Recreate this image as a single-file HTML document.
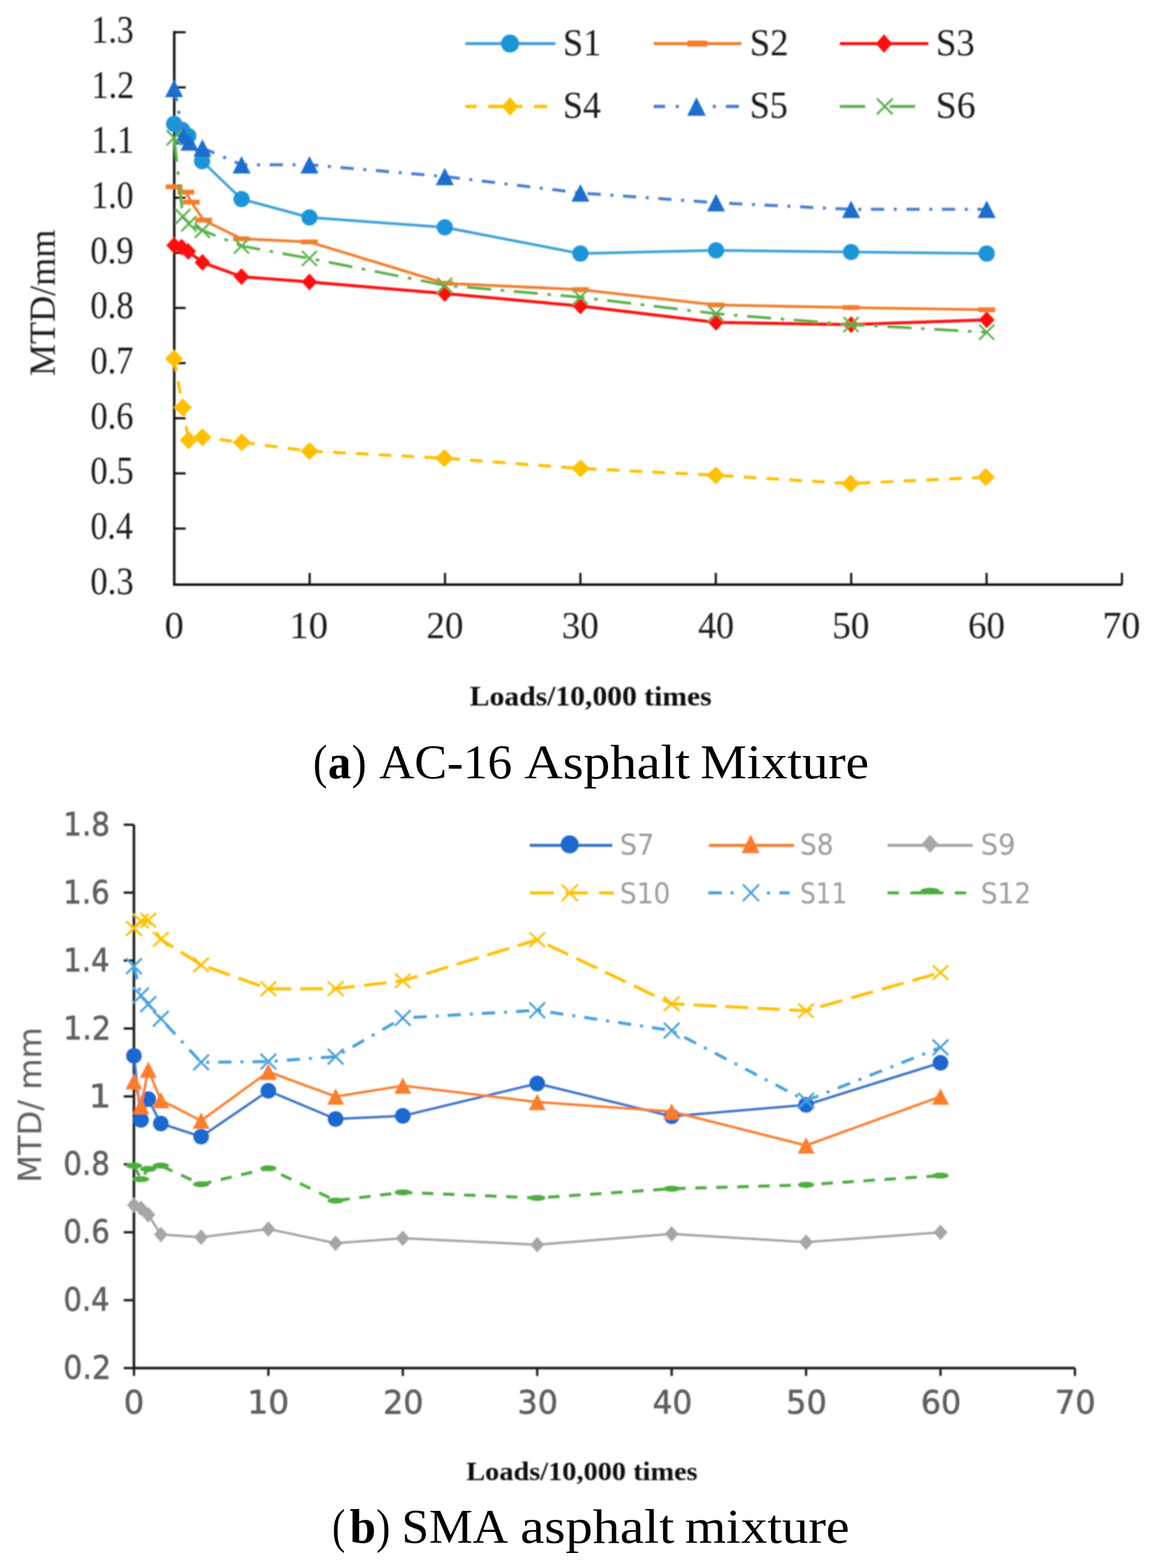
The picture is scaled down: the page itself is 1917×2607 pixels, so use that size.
<!DOCTYPE html>
<html><head><meta charset="utf-8"><title>MTD vs Loads</title>
<style>html,body{margin:0;padding:0;background:#fff;} svg{display:block;}</style></head>
<body>
<svg width="1917" height="2607" viewBox="0 0 1917 2607">
<defs><filter id="soft" x="0" y="0" width="1917" height="2607" filterUnits="userSpaceOnUse"><feGaussianBlur stdDeviation="0.9"/></filter></defs>
<rect width="1917" height="2607" fill="#fff"/>
<g id="chartA" filter="url(#soft)">
<path d="M289.7,51.6 V972.0 H1865.4" fill="none" stroke="#111" stroke-width="4" stroke-linejoin="miter"/>
<line x1="289.7" y1="878.8" x2="308.7" y2="878.8" stroke="#111" stroke-width="3.5"/>
<line x1="289.7" y1="787.1" x2="308.7" y2="787.1" stroke="#111" stroke-width="3.5"/>
<line x1="289.7" y1="695.4" x2="308.7" y2="695.4" stroke="#111" stroke-width="3.5"/>
<line x1="289.7" y1="603.7" x2="308.7" y2="603.7" stroke="#111" stroke-width="3.5"/>
<line x1="289.7" y1="512.0" x2="308.7" y2="512.0" stroke="#111" stroke-width="3.5"/>
<line x1="289.7" y1="420.4" x2="308.7" y2="420.4" stroke="#111" stroke-width="3.5"/>
<line x1="289.7" y1="328.7" x2="308.7" y2="328.7" stroke="#111" stroke-width="3.5"/>
<line x1="289.7" y1="237.0" x2="308.7" y2="237.0" stroke="#111" stroke-width="3.5"/>
<line x1="289.7" y1="145.3" x2="308.7" y2="145.3" stroke="#111" stroke-width="3.5"/>
<line x1="289.7" y1="53.6" x2="308.7" y2="53.6" stroke="#111" stroke-width="3.5"/>
<line x1="514.8" y1="972.0" x2="514.8" y2="952.5" stroke="#111" stroke-width="3.5"/>
<line x1="739.9" y1="972.0" x2="739.9" y2="952.5" stroke="#111" stroke-width="3.5"/>
<line x1="965.0" y1="972.0" x2="965.0" y2="952.5" stroke="#111" stroke-width="3.5"/>
<line x1="1190.1" y1="972.0" x2="1190.1" y2="952.5" stroke="#111" stroke-width="3.5"/>
<line x1="1415.2" y1="972.0" x2="1415.2" y2="952.5" stroke="#111" stroke-width="3.5"/>
<line x1="1640.3" y1="972.0" x2="1640.3" y2="952.5" stroke="#111" stroke-width="3.5"/>
<line x1="1865.4" y1="972.0" x2="1865.4" y2="952.5" stroke="#111" stroke-width="3.5"/>
<text x="150.3" y="987.7" textLength="72.0" lengthAdjust="spacingAndGlyphs" style='font-family:"Liberation Serif", serif;font-weight:normal;font-size:65px' fill="#1a1a1a">0.3</text>
<text x="150.4" y="896.0" textLength="70.5" lengthAdjust="spacingAndGlyphs" style='font-family:"Liberation Serif", serif;font-weight:normal;font-size:65px' fill="#1a1a1a">0.4</text>
<text x="150.3" y="804.3" textLength="72.0" lengthAdjust="spacingAndGlyphs" style='font-family:"Liberation Serif", serif;font-weight:normal;font-size:65px' fill="#1a1a1a">0.5</text>
<text x="150.4" y="712.6" textLength="71.4" lengthAdjust="spacingAndGlyphs" style='font-family:"Liberation Serif", serif;font-weight:normal;font-size:65px' fill="#1a1a1a">0.6</text>
<text x="150.4" y="620.9" textLength="71.4" lengthAdjust="spacingAndGlyphs" style='font-family:"Liberation Serif", serif;font-weight:normal;font-size:65px' fill="#1a1a1a">0.7</text>
<text x="150.3" y="529.2" textLength="71.8" lengthAdjust="spacingAndGlyphs" style='font-family:"Liberation Serif", serif;font-weight:normal;font-size:65px' fill="#1a1a1a">0.8</text>
<text x="150.3" y="437.6" textLength="72.0" lengthAdjust="spacingAndGlyphs" style='font-family:"Liberation Serif", serif;font-weight:normal;font-size:65px' fill="#1a1a1a">0.9</text>
<text x="152.1" y="345.9" textLength="70.0" lengthAdjust="spacingAndGlyphs" style='font-family:"Liberation Serif", serif;font-weight:normal;font-size:65px' fill="#1a1a1a">1.0</text>
<text x="152.0" y="254.2" textLength="71.4" lengthAdjust="spacingAndGlyphs" style='font-family:"Liberation Serif", serif;font-weight:normal;font-size:65px' fill="#1a1a1a">1.1</text>
<text x="152.0" y="162.5" textLength="71.1" lengthAdjust="spacingAndGlyphs" style='font-family:"Liberation Serif", serif;font-weight:normal;font-size:65px' fill="#1a1a1a">1.2</text>
<text x="152.1" y="70.8" textLength="70.2" lengthAdjust="spacingAndGlyphs" style='font-family:"Liberation Serif", serif;font-weight:normal;font-size:65px' fill="#1a1a1a">1.3</text>
<text x="273.8" y="1060.5" textLength="31.8" lengthAdjust="spacingAndGlyphs" style='font-family:"Liberation Serif", serif;font-weight:normal;font-size:64px' fill="#1a1a1a">0</text>
<text x="481.0" y="1060.5" textLength="64.5" lengthAdjust="spacingAndGlyphs" style='font-family:"Liberation Serif", serif;font-weight:normal;font-size:64px' fill="#1a1a1a">10</text>
<text x="708.9" y="1060.5" textLength="61.5" lengthAdjust="spacingAndGlyphs" style='font-family:"Liberation Serif", serif;font-weight:normal;font-size:64px' fill="#1a1a1a">20</text>
<text x="933.9" y="1060.5" textLength="61.6" lengthAdjust="spacingAndGlyphs" style='font-family:"Liberation Serif", serif;font-weight:normal;font-size:64px' fill="#1a1a1a">30</text>
<text x="1160.7" y="1060.5" textLength="59.8" lengthAdjust="spacingAndGlyphs" style='font-family:"Liberation Serif", serif;font-weight:normal;font-size:64px' fill="#1a1a1a">40</text>
<text x="1383.4" y="1060.5" textLength="62.3" lengthAdjust="spacingAndGlyphs" style='font-family:"Liberation Serif", serif;font-weight:normal;font-size:64px' fill="#1a1a1a">50</text>
<text x="1609.5" y="1060.5" textLength="61.3" lengthAdjust="spacingAndGlyphs" style='font-family:"Liberation Serif", serif;font-weight:normal;font-size:64px' fill="#1a1a1a">60</text>
<text x="1833.1" y="1060.5" textLength="62.8" lengthAdjust="spacingAndGlyphs" style='font-family:"Liberation Serif", serif;font-weight:normal;font-size:64px' fill="#1a1a1a">70</text>
<text transform="translate(91.0,623.5) rotate(-90)" x="-1.8" y="0" textLength="243.5" lengthAdjust="spacingAndGlyphs" style='font-family:"Liberation Serif", serif;font-weight:normal;font-size:62px' fill="#1a1a1a">MTD/mm</text>
<polyline points="289.5,206.0 303.0,216.0 313.0,226.0 336.0,268.0 401.6,331.0 514.5,361.5 739.5,378.0 965.0,421.6 1190.5,416.2 1415.0,419.0 1640.5,421.6" fill="none" stroke="#3fa1dc" stroke-width="4.5" stroke-linejoin="round"/>
<circle cx="289.5" cy="206.0" r="13.5" fill="#1b95d8"/>
<circle cx="303.0" cy="216.0" r="13.5" fill="#1b95d8"/>
<circle cx="313.0" cy="226.0" r="13.5" fill="#1b95d8"/>
<circle cx="336.0" cy="268.0" r="13.5" fill="#1b95d8"/>
<circle cx="401.6" cy="331.0" r="13.5" fill="#1b95d8"/>
<circle cx="514.5" cy="361.5" r="13.5" fill="#1b95d8"/>
<circle cx="739.5" cy="378.0" r="13.5" fill="#1b95d8"/>
<circle cx="965.0" cy="421.6" r="13.5" fill="#1b95d8"/>
<circle cx="1190.5" cy="416.2" r="13.5" fill="#1b95d8"/>
<circle cx="1415.0" cy="419.0" r="13.5" fill="#1b95d8"/>
<circle cx="1640.5" cy="421.6" r="13.5" fill="#1b95d8"/>
<polyline points="289.5,310.5 309.0,319.5 318.0,336.0 338.5,366.0 401.6,397.0 514.5,402.3 739.5,471.0 965.0,481.5 1190.5,507.0 1415.0,511.3 1640.5,515.0" fill="none" stroke="#f47d2c" stroke-width="4.5" stroke-linejoin="round"/>
<rect x="275.5" y="306.5" width="28" height="8" fill="#f47d2c"/>
<rect x="295.0" y="315.5" width="28" height="8" fill="#f47d2c"/>
<rect x="304.0" y="332.0" width="28" height="8" fill="#f47d2c"/>
<rect x="324.5" y="362.0" width="28" height="8" fill="#f47d2c"/>
<rect x="387.6" y="393.0" width="28" height="8" fill="#f47d2c"/>
<rect x="500.5" y="398.3" width="28" height="8" fill="#f47d2c"/>
<rect x="725.5" y="467.0" width="28" height="8" fill="#f47d2c"/>
<rect x="951.0" y="477.5" width="28" height="8" fill="#f47d2c"/>
<rect x="1176.5" y="503.0" width="28" height="8" fill="#f47d2c"/>
<rect x="1401.0" y="507.3" width="28" height="8" fill="#f47d2c"/>
<rect x="1626.5" y="511.0" width="28" height="8" fill="#f47d2c"/>
<polyline points="289.5,408.0 302.0,411.0 313.0,418.0 336.7,436.3 401.6,460.0 514.5,468.8 739.5,488.0 965.0,508.8 1190.5,536.0 1415.0,539.7 1640.5,531.7" fill="none" stroke="#ff0a0a" stroke-width="5" stroke-linejoin="round"/>
<path d="M289.5,394.0 L302.5,408.0 L289.5,422.0 L276.5,408.0Z" fill="#ff0a0a"/>
<path d="M302.0,397.0 L315.0,411.0 L302.0,425.0 L289.0,411.0Z" fill="#ff0a0a"/>
<path d="M313.0,404.0 L326.0,418.0 L313.0,432.0 L300.0,418.0Z" fill="#ff0a0a"/>
<path d="M336.7,422.3 L349.7,436.3 L336.7,450.3 L323.7,436.3Z" fill="#ff0a0a"/>
<path d="M401.6,446.0 L414.6,460.0 L401.6,474.0 L388.6,460.0Z" fill="#ff0a0a"/>
<path d="M514.5,454.8 L527.5,468.8 L514.5,482.8 L501.5,468.8Z" fill="#ff0a0a"/>
<path d="M739.5,474.0 L752.5,488.0 L739.5,502.0 L726.5,488.0Z" fill="#ff0a0a"/>
<path d="M965.0,494.8 L978.0,508.8 L965.0,522.8 L952.0,508.8Z" fill="#ff0a0a"/>
<path d="M1190.5,522.0 L1203.5,536.0 L1190.5,550.0 L1177.5,536.0Z" fill="#ff0a0a"/>
<path d="M1415.0,525.7 L1428.0,539.7 L1415.0,553.7 L1402.0,539.7Z" fill="#ff0a0a"/>
<path d="M1640.5,517.7 L1653.5,531.7 L1640.5,545.7 L1627.5,531.7Z" fill="#ff0a0a"/>
<polyline points="289.4,596.3 303.9,677.4 313.6,731.9 336.6,727.0 402.0,735.5 514.6,750.0 738.7,761.8 965.3,778.8 1190.0,790.2 1414.2,804.0 1639.0,793.3" fill="none" stroke="#ffc000" stroke-width="5" stroke-linejoin="round" stroke-dasharray="21 17"/>
<path d="M289.4,581.3 L304.4,596.3 L289.4,611.3 L274.4,596.3Z" fill="#ffc000"/>
<path d="M303.9,662.4 L318.9,677.4 L303.9,692.4 L288.9,677.4Z" fill="#ffc000"/>
<path d="M313.6,716.9 L328.6,731.9 L313.6,746.9 L298.6,731.9Z" fill="#ffc000"/>
<path d="M336.6,712.0 L351.6,727.0 L336.6,742.0 L321.6,727.0Z" fill="#ffc000"/>
<path d="M402.0,720.5 L417.0,735.5 L402.0,750.5 L387.0,735.5Z" fill="#ffc000"/>
<path d="M514.6,735.0 L529.6,750.0 L514.6,765.0 L499.6,750.0Z" fill="#ffc000"/>
<path d="M738.7,746.8 L753.7,761.8 L738.7,776.8 L723.7,761.8Z" fill="#ffc000"/>
<path d="M965.3,763.8 L980.3,778.8 L965.3,793.8 L950.3,778.8Z" fill="#ffc000"/>
<path d="M1190.0,775.2 L1205.0,790.2 L1190.0,805.2 L1175.0,790.2Z" fill="#ffc000"/>
<path d="M1414.2,789.0 L1429.2,804.0 L1414.2,819.0 L1399.2,804.0Z" fill="#ffc000"/>
<path d="M1639.0,778.3 L1654.0,793.3 L1639.0,808.3 L1624.0,793.3Z" fill="#ffc000"/>
<polyline points="289.5,147.0 305.0,226.0 315.0,236.0 336.5,246.0 401.6,274.0 514.5,274.0 739.5,293.5 965.0,320.8 1190.5,337.0 1415.0,348.0 1640.5,348.0" fill="none" stroke="#4a7fd0" stroke-width="5" stroke-linejoin="round" stroke-dasharray="22 16 5 16"/>
<path d="M289.5,132.5 L304.5,161.5 L274.5,161.5Z" fill="#1f6dcf"/>
<path d="M305.0,211.5 L320.0,240.5 L290.0,240.5Z" fill="#1f6dcf"/>
<path d="M315.0,221.5 L330.0,250.5 L300.0,250.5Z" fill="#1f6dcf"/>
<path d="M336.5,231.5 L351.5,260.5 L321.5,260.5Z" fill="#1f6dcf"/>
<path d="M401.6,259.5 L416.6,288.5 L386.6,288.5Z" fill="#1f6dcf"/>
<path d="M514.5,259.5 L529.5,288.5 L499.5,288.5Z" fill="#1f6dcf"/>
<path d="M739.5,279.0 L754.5,308.0 L724.5,308.0Z" fill="#1f6dcf"/>
<path d="M965.0,306.3 L980.0,335.3 L950.0,335.3Z" fill="#1f6dcf"/>
<path d="M1190.5,322.5 L1205.5,351.5 L1175.5,351.5Z" fill="#1f6dcf"/>
<path d="M1415.0,333.5 L1430.0,362.5 L1400.0,362.5Z" fill="#1f6dcf"/>
<path d="M1640.5,333.5 L1655.5,362.5 L1625.5,362.5Z" fill="#1f6dcf"/>
<polyline points="289.5,229.0 304.0,360.0 314.0,372.0 336.5,383.0 401.6,409.0 514.5,429.6 739.5,474.3 965.0,494.2 1190.5,521.5 1415.0,539.7 1640.5,552.4" fill="none" stroke="#58b14a" stroke-width="4.5" stroke-linejoin="round" stroke-dasharray="40 16 6 16"/>
<path d="M277.0,216.5 L302.0,241.5 M302.0,216.5 L277.0,241.5" stroke="#58b14a" stroke-width="3.2" fill="none"/>
<path d="M291.5,347.5 L316.5,372.5 M316.5,347.5 L291.5,372.5" stroke="#58b14a" stroke-width="3.2" fill="none"/>
<path d="M301.5,359.5 L326.5,384.5 M326.5,359.5 L301.5,384.5" stroke="#58b14a" stroke-width="3.2" fill="none"/>
<path d="M324.0,370.5 L349.0,395.5 M349.0,370.5 L324.0,395.5" stroke="#58b14a" stroke-width="3.2" fill="none"/>
<path d="M389.1,396.5 L414.1,421.5 M414.1,396.5 L389.1,421.5" stroke="#58b14a" stroke-width="3.2" fill="none"/>
<path d="M502.0,417.1 L527.0,442.1 M527.0,417.1 L502.0,442.1" stroke="#58b14a" stroke-width="3.2" fill="none"/>
<path d="M727.0,461.8 L752.0,486.8 M752.0,461.8 L727.0,486.8" stroke="#58b14a" stroke-width="3.2" fill="none"/>
<path d="M952.5,481.7 L977.5,506.7 M977.5,481.7 L952.5,506.7" stroke="#58b14a" stroke-width="3.2" fill="none"/>
<path d="M1178.0,509.0 L1203.0,534.0 M1203.0,509.0 L1178.0,534.0" stroke="#58b14a" stroke-width="3.2" fill="none"/>
<path d="M1402.5,527.2 L1427.5,552.2 M1427.5,527.2 L1402.5,552.2" stroke="#58b14a" stroke-width="3.2" fill="none"/>
<path d="M1628.0,539.9 L1653.0,564.9 M1653.0,539.9 L1628.0,564.9" stroke="#58b14a" stroke-width="3.2" fill="none"/>
<line x1="773.6" y1="72.5" x2="923.4" y2="72.5" stroke="#3fa1dc" stroke-width="5"/><circle cx="848.0" cy="72.5" r="15" fill="#1b95d8"/>
<line x1="1086.9" y1="72.5" x2="1232.9" y2="72.5" stroke="#f47d2c" stroke-width="5"/><rect x="1143.0" y="67.5" width="33" height="10" fill="#f47d2c"/>
<line x1="1396.3" y1="72.5" x2="1543.4" y2="72.5" stroke="#ff0a0a" stroke-width="5"/><path d="M1469.8,57.0 L1483.3,72.5 L1469.8,88.0 L1456.3,72.5Z" fill="#ff0a0a"/>
<line x1="773.6" y1="177.1" x2="923.4" y2="177.1" stroke="#ffc000" stroke-width="5.5" stroke-dasharray="19 19 57 19 22"/><path d="M848.0,161.6 L861.5,177.1 L848.0,192.6 L834.5,177.1Z" fill="#ffc000"/>
<line x1="1086.9" y1="177.1" x2="1228.5" y2="177.1" stroke="#4a7fd0" stroke-width="5.5" stroke-dasharray="19 17.6 5 56.7 5 16.5 21.8"/><path d="M1158.0,161.6 L1173.5,192.6 L1142.5,192.6Z" fill="#1f6dcf"/>
<line x1="1396.3" y1="177.1" x2="1521.6" y2="177.1" stroke="#58b14a" stroke-width="5" stroke-dasharray="42 41 43"/><path d="M1458.0,164.1 L1484.0,190.1 M1484.0,164.1 L1458.0,190.1" stroke="#58b14a" stroke-width="3.5" fill="none"/>
<text x="935.9" y="92.0" textLength="63.8" lengthAdjust="spacingAndGlyphs" style='font-family:"Liberation Serif", serif;font-weight:normal;font-size:63px' fill="#1a1a1a">S1</text>
<text x="1246.4" y="92.0" textLength="64.6" lengthAdjust="spacingAndGlyphs" style='font-family:"Liberation Serif", serif;font-weight:normal;font-size:63px' fill="#1a1a1a">S2</text>
<text x="1555.9" y="92.0" textLength="64.7" lengthAdjust="spacingAndGlyphs" style='font-family:"Liberation Serif", serif;font-weight:normal;font-size:63px' fill="#1a1a1a">S3</text>
<text x="936.0" y="196.0" textLength="63.0" lengthAdjust="spacingAndGlyphs" style='font-family:"Liberation Serif", serif;font-weight:normal;font-size:63px' fill="#1a1a1a">S4</text>
<text x="1246.4" y="196.0" textLength="63.5" lengthAdjust="spacingAndGlyphs" style='font-family:"Liberation Serif", serif;font-weight:normal;font-size:63px' fill="#1a1a1a">S5</text>
<text x="1555.8" y="196.0" textLength="66.2" lengthAdjust="spacingAndGlyphs" style='font-family:"Liberation Serif", serif;font-weight:normal;font-size:63px' fill="#1a1a1a">S6</text>
<text x="781.1" y="1172.5" textLength="402.1" lengthAdjust="spacingAndGlyphs" style='font-family:"Liberation Serif", serif;font-weight:bold;font-size:47px' fill="#111">Loads/10,000 times</text>
</g>
<text x="520.4" y="1293.7" textLength="23.8" lengthAdjust="spacingAndGlyphs" style='font-family:"Liberation Serif", serif;font-weight:normal;font-size:81px' fill="#000">(</text>
<text x="545.3" y="1293.7" textLength="38.5" lengthAdjust="spacingAndGlyphs" style='font-family:"Liberation Serif", serif;font-weight:bold;font-size:81px' fill="#000">a</text>
<text x="584.8" y="1293.7" textLength="24.6" lengthAdjust="spacingAndGlyphs" style='font-family:"Liberation Serif", serif;font-weight:normal;font-size:81px' fill="#000">)</text>
<text x="630.3" y="1293.7" textLength="221.1" lengthAdjust="spacingAndGlyphs" style='font-family:"Liberation Serif", serif;font-weight:normal;font-size:81px' fill="#000">AC-16</text>
<text x="871.8" y="1293.7" textLength="275.6" lengthAdjust="spacingAndGlyphs" style='font-family:"Liberation Serif", serif;font-weight:normal;font-size:81px' fill="#000">Asphalt</text>
<text x="1164.3" y="1293.7" textLength="280.3" lengthAdjust="spacingAndGlyphs" style='font-family:"Liberation Serif", serif;font-weight:normal;font-size:81px' fill="#000">Mixture</text>
<text x="552.2" y="2565.0" textLength="21.8" lengthAdjust="spacingAndGlyphs" style='font-family:"Liberation Serif", serif;font-weight:normal;font-size:81px' fill="#000">(</text>
<text x="581.4" y="2565.0" textLength="43.5" lengthAdjust="spacingAndGlyphs" style='font-family:"Liberation Serif", serif;font-weight:bold;font-size:81px' fill="#000">b</text>
<text x="625.5" y="2565.0" textLength="23.4" lengthAdjust="spacingAndGlyphs" style='font-family:"Liberation Serif", serif;font-weight:normal;font-size:81px' fill="#000">)</text>
<text x="667.7" y="2565.0" textLength="177.1" lengthAdjust="spacingAndGlyphs" style='font-family:"Liberation Serif", serif;font-weight:normal;font-size:81px' fill="#000">SMA</text>
<text x="865.0" y="2565.0" textLength="256.0" lengthAdjust="spacingAndGlyphs" style='font-family:"Liberation Serif", serif;font-weight:normal;font-size:81px' fill="#000">asphalt</text>
<text x="1138.8" y="2565.0" textLength="273.6" lengthAdjust="spacingAndGlyphs" style='font-family:"Liberation Serif", serif;font-weight:normal;font-size:81px' fill="#000">mixture</text>
<g id="chartB" filter="url(#soft)">
<path d="M222.7,1371.2 V2274.6 H1787.2" fill="none" stroke="#1a1a1a" stroke-width="4.2"/>
<line x1="205.7" y1="2274.6" x2="222.7" y2="2274.6" stroke="#1a1a1a" stroke-width="3.8"/>
<line x1="205.7" y1="2161.7" x2="222.7" y2="2161.7" stroke="#1a1a1a" stroke-width="3.8"/>
<line x1="205.7" y1="2048.8" x2="222.7" y2="2048.8" stroke="#1a1a1a" stroke-width="3.8"/>
<line x1="205.7" y1="1935.8" x2="222.7" y2="1935.8" stroke="#1a1a1a" stroke-width="3.8"/>
<line x1="205.7" y1="1822.9" x2="222.7" y2="1822.9" stroke="#1a1a1a" stroke-width="3.8"/>
<line x1="205.7" y1="1710.0" x2="222.7" y2="1710.0" stroke="#1a1a1a" stroke-width="3.8"/>
<line x1="205.7" y1="1597.0" x2="222.7" y2="1597.0" stroke="#1a1a1a" stroke-width="3.8"/>
<line x1="205.7" y1="1484.1" x2="222.7" y2="1484.1" stroke="#1a1a1a" stroke-width="3.8"/>
<line x1="205.7" y1="1371.2" x2="222.7" y2="1371.2" stroke="#1a1a1a" stroke-width="3.8"/>
<line x1="222.7" y1="2274.6" x2="222.7" y2="2287.6" stroke="#1a1a1a" stroke-width="3.8"/>
<line x1="446.2" y1="2274.6" x2="446.2" y2="2287.6" stroke="#1a1a1a" stroke-width="3.8"/>
<line x1="669.7" y1="2274.6" x2="669.7" y2="2287.6" stroke="#1a1a1a" stroke-width="3.8"/>
<line x1="893.2" y1="2274.6" x2="893.2" y2="2287.6" stroke="#1a1a1a" stroke-width="3.8"/>
<line x1="1116.7" y1="2274.6" x2="1116.7" y2="2287.6" stroke="#1a1a1a" stroke-width="3.8"/>
<line x1="1340.2" y1="2274.6" x2="1340.2" y2="2287.6" stroke="#1a1a1a" stroke-width="3.8"/>
<line x1="1563.7" y1="2274.6" x2="1563.7" y2="2287.6" stroke="#1a1a1a" stroke-width="3.8"/>
<line x1="1787.2" y1="2274.6" x2="1787.2" y2="2287.6" stroke="#1a1a1a" stroke-width="3.8"/>
<text x="105.3" y="2292.2" textLength="79.4" lengthAdjust="spacingAndGlyphs" style='font-family:"DejaVu Sans", sans-serif;font-weight:normal;font-size:53px' fill="#5f5f5f" stroke="#5f5f5f" stroke-width="0.9">0.2</text>
<text x="105.4" y="2179.3" textLength="76.9" lengthAdjust="spacingAndGlyphs" style='font-family:"DejaVu Sans", sans-serif;font-weight:normal;font-size:53px' fill="#5f5f5f" stroke="#5f5f5f" stroke-width="0.9">0.4</text>
<text x="105.3" y="2066.3" textLength="77.3" lengthAdjust="spacingAndGlyphs" style='font-family:"DejaVu Sans", sans-serif;font-weight:normal;font-size:53px' fill="#5f5f5f" stroke="#5f5f5f" stroke-width="0.9">0.6</text>
<text x="105.3" y="1953.4" textLength="77.6" lengthAdjust="spacingAndGlyphs" style='font-family:"DejaVu Sans", sans-serif;font-weight:normal;font-size:53px' fill="#5f5f5f" stroke="#5f5f5f" stroke-width="0.9">0.8</text>
<text x="147.5" y="1840.5" textLength="37.4" lengthAdjust="spacingAndGlyphs" style='font-family:"DejaVu Sans", sans-serif;font-weight:normal;font-size:53px' fill="#5f5f5f" stroke="#5f5f5f" stroke-width="0.9">1</text>
<text x="105.0" y="1727.6" textLength="79.6" lengthAdjust="spacingAndGlyphs" style='font-family:"DejaVu Sans", sans-serif;font-weight:normal;font-size:53px' fill="#5f5f5f" stroke="#5f5f5f" stroke-width="0.9">1.2</text>
<text x="105.2" y="1614.6" textLength="77.1" lengthAdjust="spacingAndGlyphs" style='font-family:"DejaVu Sans", sans-serif;font-weight:normal;font-size:53px' fill="#5f5f5f" stroke="#5f5f5f" stroke-width="0.9">1.4</text>
<text x="105.1" y="1501.7" textLength="77.5" lengthAdjust="spacingAndGlyphs" style='font-family:"DejaVu Sans", sans-serif;font-weight:normal;font-size:53px' fill="#5f5f5f" stroke="#5f5f5f" stroke-width="0.9">1.6</text>
<text x="105.1" y="1388.8" textLength="77.8" lengthAdjust="spacingAndGlyphs" style='font-family:"DejaVu Sans", sans-serif;font-weight:normal;font-size:53px' fill="#5f5f5f" stroke="#5f5f5f" stroke-width="0.9">1.8</text>
<text x="205.7" y="2349.5" textLength="34.0" lengthAdjust="spacingAndGlyphs" style='font-family:"DejaVu Sans", sans-serif;font-weight:normal;font-size:53px' fill="#5f5f5f" stroke="#5f5f5f" stroke-width="0.9">0</text>
<text x="411.2" y="2349.5" textLength="69.6" lengthAdjust="spacingAndGlyphs" style='font-family:"DejaVu Sans", sans-serif;font-weight:normal;font-size:53px' fill="#5f5f5f" stroke="#5f5f5f" stroke-width="0.9">10</text>
<text x="636.9" y="2349.5" textLength="67.3" lengthAdjust="spacingAndGlyphs" style='font-family:"DejaVu Sans", sans-serif;font-weight:normal;font-size:53px' fill="#5f5f5f" stroke="#5f5f5f" stroke-width="0.9">20</text>
<text x="860.2" y="2349.5" textLength="67.4" lengthAdjust="spacingAndGlyphs" style='font-family:"DejaVu Sans", sans-serif;font-weight:normal;font-size:53px' fill="#5f5f5f" stroke="#5f5f5f" stroke-width="0.9">30</text>
<text x="1085.1" y="2349.5" textLength="66.0" lengthAdjust="spacingAndGlyphs" style='font-family:"DejaVu Sans", sans-serif;font-weight:normal;font-size:53px' fill="#5f5f5f" stroke="#5f5f5f" stroke-width="0.9">40</text>
<text x="1307.1" y="2349.5" textLength="67.6" lengthAdjust="spacingAndGlyphs" style='font-family:"DejaVu Sans", sans-serif;font-weight:normal;font-size:53px' fill="#5f5f5f" stroke="#5f5f5f" stroke-width="0.9">50</text>
<text x="1531.0" y="2349.5" textLength="67.1" lengthAdjust="spacingAndGlyphs" style='font-family:"DejaVu Sans", sans-serif;font-weight:normal;font-size:53px' fill="#5f5f5f" stroke="#5f5f5f" stroke-width="0.9">60</text>
<text x="1753.8" y="2349.5" textLength="67.9" lengthAdjust="spacingAndGlyphs" style='font-family:"DejaVu Sans", sans-serif;font-weight:normal;font-size:53px' fill="#5f5f5f" stroke="#5f5f5f" stroke-width="0.9">70</text>
<text transform="translate(68.4,1961.3) rotate(-90)" x="-5.2" y="0" textLength="258.7" lengthAdjust="spacingAndGlyphs" style='font-family:"DejaVu Sans", sans-serif;font-weight:normal;font-size:53px' fill="#5f5f5f">MTD/ mm</text>
<polyline points="222.7,1755.4 234.4,1862.0 246.5,1827.5 267.4,1868.0 334.4,1889.8 446.2,1813.6 558.0,1860.5 669.7,1855.2 893.2,1801.5 1116.7,1856.0 1340.2,1837.0 1563.7,1767.0" fill="none" stroke="#3a72cc" stroke-width="4" stroke-linejoin="round"/>
<circle cx="222.7" cy="1755.4" r="13" fill="#1f68cf"/>
<circle cx="234.4" cy="1862.0" r="13" fill="#1f68cf"/>
<circle cx="246.5" cy="1827.5" r="13" fill="#1f68cf"/>
<circle cx="267.4" cy="1868.0" r="13" fill="#1f68cf"/>
<circle cx="334.4" cy="1889.8" r="13" fill="#1f68cf"/>
<circle cx="446.2" cy="1813.6" r="13" fill="#1f68cf"/>
<circle cx="558.0" cy="1860.5" r="13" fill="#1f68cf"/>
<circle cx="669.7" cy="1855.2" r="13" fill="#1f68cf"/>
<circle cx="893.2" cy="1801.5" r="13" fill="#1f68cf"/>
<circle cx="1116.7" cy="1856.0" r="13" fill="#1f68cf"/>
<circle cx="1340.2" cy="1837.0" r="13" fill="#1f68cf"/>
<circle cx="1563.7" cy="1767.0" r="13" fill="#1f68cf"/>
<polyline points="222.7,1797.8 234.4,1839.0 246.5,1778.4 267.4,1829.3 334.4,1863.2 446.2,1782.0 558.0,1823.2 669.7,1805.1 893.2,1832.3 1116.7,1848.0 1340.2,1904.5 1563.7,1823.2" fill="none" stroke="#fd7b2c" stroke-width="4" stroke-linejoin="round"/>
<path d="M222.7,1784.3 L236.7,1811.3 L208.7,1811.3Z" fill="#fd7b2c"/>
<path d="M234.4,1825.5 L248.4,1852.5 L220.4,1852.5Z" fill="#fd7b2c"/>
<path d="M246.5,1764.9 L260.5,1791.9 L232.5,1791.9Z" fill="#fd7b2c"/>
<path d="M267.4,1815.8 L281.4,1842.8 L253.4,1842.8Z" fill="#fd7b2c"/>
<path d="M334.4,1849.7 L348.4,1876.7 L320.4,1876.7Z" fill="#fd7b2c"/>
<path d="M446.2,1768.5 L460.2,1795.5 L432.2,1795.5Z" fill="#fd7b2c"/>
<path d="M558.0,1809.7 L572.0,1836.7 L544.0,1836.7Z" fill="#fd7b2c"/>
<path d="M669.7,1791.6 L683.7,1818.6 L655.7,1818.6Z" fill="#fd7b2c"/>
<path d="M893.2,1818.8 L907.2,1845.8 L879.2,1845.8Z" fill="#fd7b2c"/>
<path d="M1116.7,1834.5 L1130.7,1861.5 L1102.7,1861.5Z" fill="#fd7b2c"/>
<path d="M1340.2,1891.0 L1354.2,1918.0 L1326.2,1918.0Z" fill="#fd7b2c"/>
<path d="M1563.7,1809.7 L1577.7,1836.7 L1549.7,1836.7Z" fill="#fd7b2c"/>
<polyline points="222.7,2003.5 234.4,2009.0 246.5,2019.8 267.4,2052.5 334.4,2056.9 446.2,2043.4 558.0,2067.0 669.7,2058.7 893.2,2069.6 1116.7,2051.6 1340.2,2065.2 1563.7,2048.9" fill="none" stroke="#a6a6a6" stroke-width="4" stroke-linejoin="round"/>
<path d="M222.7,1990.5 L234.2,2003.5 L222.7,2016.5 L211.2,2003.5Z" fill="#a6a6a6"/>
<path d="M234.4,1996.0 L245.9,2009.0 L234.4,2022.0 L222.9,2009.0Z" fill="#a6a6a6"/>
<path d="M246.5,2006.8 L258.0,2019.8 L246.5,2032.8 L235.0,2019.8Z" fill="#a6a6a6"/>
<path d="M267.4,2039.5 L278.9,2052.5 L267.4,2065.5 L255.9,2052.5Z" fill="#a6a6a6"/>
<path d="M334.4,2043.9 L345.9,2056.9 L334.4,2069.9 L322.9,2056.9Z" fill="#a6a6a6"/>
<path d="M446.2,2030.4 L457.7,2043.4 L446.2,2056.4 L434.7,2043.4Z" fill="#a6a6a6"/>
<path d="M558.0,2054.0 L569.5,2067.0 L558.0,2080.0 L546.5,2067.0Z" fill="#a6a6a6"/>
<path d="M669.7,2045.7 L681.2,2058.7 L669.7,2071.7 L658.2,2058.7Z" fill="#a6a6a6"/>
<path d="M893.2,2056.6 L904.7,2069.6 L893.2,2082.6 L881.7,2069.6Z" fill="#a6a6a6"/>
<path d="M1116.7,2038.6 L1128.2,2051.6 L1116.7,2064.6 L1105.2,2051.6Z" fill="#a6a6a6"/>
<path d="M1340.2,2052.2 L1351.7,2065.2 L1340.2,2078.2 L1328.7,2065.2Z" fill="#a6a6a6"/>
<path d="M1563.7,2035.9 L1575.2,2048.9 L1563.7,2061.9 L1552.2,2048.9Z" fill="#a6a6a6"/>
<polyline points="222.7,1543.6 234.4,1531.5 246.5,1530.0 267.4,1561.7 334.4,1604.1 446.2,1644.0 558.0,1643.8 669.7,1630.7 893.2,1562.5 1116.7,1668.9 1340.2,1680.5 1563.7,1617.0" fill="none" stroke="#ffc000" stroke-width="5" stroke-linejoin="round" stroke-dasharray="38 15"/>
<path d="M209.7,1531.6 L235.7,1555.6 M235.7,1531.6 L209.7,1555.6" stroke="#ffc000" stroke-width="3.5" fill="none"/>
<path d="M221.4,1519.5 L247.4,1543.5 M247.4,1519.5 L221.4,1543.5" stroke="#ffc000" stroke-width="3.5" fill="none"/>
<path d="M233.5,1518.0 L259.5,1542.0 M259.5,1518.0 L233.5,1542.0" stroke="#ffc000" stroke-width="3.5" fill="none"/>
<path d="M254.4,1549.7 L280.4,1573.7 M280.4,1549.7 L254.4,1573.7" stroke="#ffc000" stroke-width="3.5" fill="none"/>
<path d="M321.4,1592.1 L347.4,1616.1 M347.4,1592.1 L321.4,1616.1" stroke="#ffc000" stroke-width="3.5" fill="none"/>
<path d="M433.2,1632.0 L459.2,1656.0 M459.2,1632.0 L433.2,1656.0" stroke="#ffc000" stroke-width="3.5" fill="none"/>
<path d="M545.0,1631.8 L571.0,1655.8 M571.0,1631.8 L545.0,1655.8" stroke="#ffc000" stroke-width="3.5" fill="none"/>
<path d="M656.7,1618.7 L682.7,1642.7 M682.7,1618.7 L656.7,1642.7" stroke="#ffc000" stroke-width="3.5" fill="none"/>
<path d="M880.2,1550.5 L906.2,1574.5 M906.2,1550.5 L880.2,1574.5" stroke="#ffc000" stroke-width="3.5" fill="none"/>
<path d="M1103.7,1656.9 L1129.7,1680.9 M1129.7,1656.9 L1103.7,1680.9" stroke="#ffc000" stroke-width="3.5" fill="none"/>
<path d="M1327.2,1668.5 L1353.2,1692.5 M1353.2,1668.5 L1327.2,1692.5" stroke="#ffc000" stroke-width="3.5" fill="none"/>
<path d="M1550.7,1605.0 L1576.7,1629.0 M1576.7,1605.0 L1550.7,1629.0" stroke="#ffc000" stroke-width="3.5" fill="none"/>
<polyline points="222.7,1606.5 234.4,1655.0 246.5,1669.5 267.4,1693.7 334.4,1766.3 446.2,1765.0 558.0,1756.7 669.7,1692.5 893.2,1679.8 1116.7,1713.4 1340.2,1830.0 1563.7,1741.5" fill="none" stroke="#47a0de" stroke-width="5" stroke-linejoin="round" stroke-dasharray="22 15 5 15"/>
<path d="M209.7,1593.5 L235.7,1619.5 M235.7,1593.5 L209.7,1619.5" stroke="#47a0de" stroke-width="3.5" fill="none"/>
<path d="M221.4,1642.0 L247.4,1668.0 M247.4,1642.0 L221.4,1668.0" stroke="#47a0de" stroke-width="3.5" fill="none"/>
<path d="M233.5,1656.5 L259.5,1682.5 M259.5,1656.5 L233.5,1682.5" stroke="#47a0de" stroke-width="3.5" fill="none"/>
<path d="M254.4,1680.7 L280.4,1706.7 M280.4,1680.7 L254.4,1706.7" stroke="#47a0de" stroke-width="3.5" fill="none"/>
<path d="M321.4,1753.3 L347.4,1779.3 M347.4,1753.3 L321.4,1779.3" stroke="#47a0de" stroke-width="3.5" fill="none"/>
<path d="M433.2,1752.0 L459.2,1778.0 M459.2,1752.0 L433.2,1778.0" stroke="#47a0de" stroke-width="3.5" fill="none"/>
<path d="M545.0,1743.7 L571.0,1769.7 M571.0,1743.7 L545.0,1769.7" stroke="#47a0de" stroke-width="3.5" fill="none"/>
<path d="M656.7,1679.5 L682.7,1705.5 M682.7,1679.5 L656.7,1705.5" stroke="#47a0de" stroke-width="3.5" fill="none"/>
<path d="M880.2,1666.8 L906.2,1692.8 M906.2,1666.8 L880.2,1692.8" stroke="#47a0de" stroke-width="3.5" fill="none"/>
<path d="M1103.7,1700.4 L1129.7,1726.4 M1129.7,1700.4 L1103.7,1726.4" stroke="#47a0de" stroke-width="3.5" fill="none"/>
<path d="M1327.2,1817.0 L1353.2,1843.0 M1353.2,1817.0 L1327.2,1843.0" stroke="#47a0de" stroke-width="3.5" fill="none"/>
<path d="M1550.7,1728.5 L1576.7,1754.5 M1576.7,1728.5 L1550.7,1754.5" stroke="#47a0de" stroke-width="3.5" fill="none"/>
<polyline points="222.7,1938.1 234.4,1960.6 246.5,1943.6 267.4,1938.1 334.4,1969.0 446.2,1942.5 558.0,1996.2 669.7,1982.4 893.2,1991.7 1116.7,1976.4 1340.2,1969.9 1563.7,1954.6" fill="none" stroke="#4cae3c" stroke-width="5" stroke-linejoin="round" stroke-dasharray="19 16"/>
<ellipse cx="222.7" cy="1938.1" rx="13.5" ry="5" fill="#4cae3c"/>
<ellipse cx="234.4" cy="1960.6" rx="13.5" ry="5" fill="#4cae3c"/>
<ellipse cx="246.5" cy="1943.6" rx="13.5" ry="5" fill="#4cae3c"/>
<ellipse cx="267.4" cy="1938.1" rx="13.5" ry="5" fill="#4cae3c"/>
<ellipse cx="334.4" cy="1969.0" rx="13.5" ry="5" fill="#4cae3c"/>
<ellipse cx="446.2" cy="1942.5" rx="13.5" ry="5" fill="#4cae3c"/>
<ellipse cx="558.0" cy="1996.2" rx="13.5" ry="5" fill="#4cae3c"/>
<ellipse cx="669.7" cy="1982.4" rx="13.5" ry="5" fill="#4cae3c"/>
<ellipse cx="893.2" cy="1991.7" rx="13.5" ry="5" fill="#4cae3c"/>
<ellipse cx="1116.7" cy="1976.4" rx="13.5" ry="5" fill="#4cae3c"/>
<ellipse cx="1340.2" cy="1969.9" rx="13.5" ry="5" fill="#4cae3c"/>
<ellipse cx="1563.7" cy="1954.6" rx="13.5" ry="5" fill="#4cae3c"/>
<line x1="880.7" y1="1405.5" x2="1018" y2="1405.5" stroke="#3a72cc" stroke-width="5"/><circle cx="947.2" cy="1404.0" r="15" fill="#1f68cf"/>
<line x1="1178.7" y1="1405.5" x2="1320.3" y2="1405.5" stroke="#fd7b2c" stroke-width="5"/><path d="M1248.0,1387.5 L1263.0,1418.5 L1233.0,1418.5Z" fill="#fd7b2c"/>
<line x1="1475.6" y1="1405.5" x2="1617.2" y2="1405.5" stroke="#a6a6a6" stroke-width="5"/><path d="M1546.4,1388.0 L1559.9,1403.0 L1546.4,1418.0 L1532.9,1403.0Z" fill="#a6a6a6"/>
<line x1="880.7" y1="1484.4" x2="1020.4" y2="1484.4" stroke="#ffc000" stroke-width="5" stroke-dasharray="40 20 37 18 25"/><path d="M933.7,1470.4 L960.7,1498.4 M960.7,1470.4 L933.7,1498.4" stroke="#ffc000" stroke-width="3.5" fill="none"/>
<line x1="1177.7" y1="1484.4" x2="1312.8" y2="1484.4" stroke="#47a0de" stroke-width="5" stroke-dasharray="22.3 14.5 5 55.5 5 16 19.5"/><path d="M1235.0,1470.4 L1262.0,1498.4 M1262.0,1470.4 L1235.0,1498.4" stroke="#47a0de" stroke-width="3.5" fill="none"/>
<line x1="1475.6" y1="1484.4" x2="1606.3" y2="1484.4" stroke="#4cae3c" stroke-width="5" stroke-dasharray="19 19 55 19 19"/><ellipse cx="1546.4" cy="1481.4" rx="16" ry="5.5" fill="#4cae3c"/>
<text x="1030.6" y="1421.0" textLength="57.3" lengthAdjust="spacingAndGlyphs" style='font-family:"DejaVu Sans", sans-serif;font-weight:normal;font-size:48px' fill="#9c9c9c">S7</text>
<text x="1330.1" y="1421.0" textLength="55.9" lengthAdjust="spacingAndGlyphs" style='font-family:"DejaVu Sans", sans-serif;font-weight:normal;font-size:48px' fill="#9c9c9c">S8</text>
<text x="1630.6" y="1421.0" textLength="57.9" lengthAdjust="spacingAndGlyphs" style='font-family:"DejaVu Sans", sans-serif;font-weight:normal;font-size:48px' fill="#9c9c9c">S9</text>
<text x="1030.6" y="1501.5" textLength="84.0" lengthAdjust="spacingAndGlyphs" style='font-family:"DejaVu Sans", sans-serif;font-weight:normal;font-size:48px' fill="#9c9c9c">S10</text>
<text x="1330.3" y="1501.5" textLength="78.3" lengthAdjust="spacingAndGlyphs" style='font-family:"DejaVu Sans", sans-serif;font-weight:normal;font-size:48px' fill="#9c9c9c">S11</text>
<text x="1630.7" y="1501.5" textLength="83.6" lengthAdjust="spacingAndGlyphs" style='font-family:"DejaVu Sans", sans-serif;font-weight:normal;font-size:48px' fill="#9c9c9c">S12</text>
<text x="775.2" y="2460.7" textLength="384.7" lengthAdjust="spacingAndGlyphs" style='font-family:"Liberation Serif", serif;font-weight:bold;font-size:44px' fill="#111">Loads/10,000 times</text>
</g>
</svg>
</body></html>
